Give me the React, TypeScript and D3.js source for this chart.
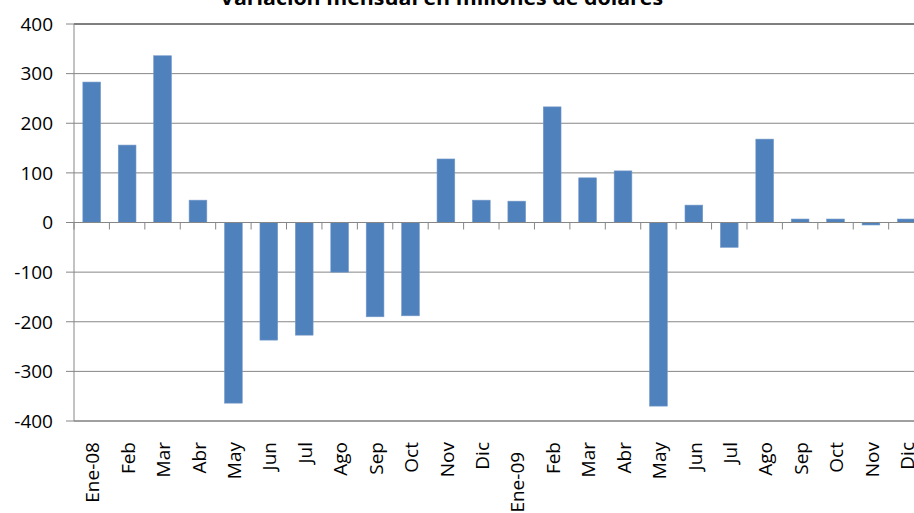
import React from "react";
import * as d3 from "d3";

const categories = ["Ene-08","Feb","Mar","Abr","May","Jun","Jul","Ago","Sep","Oct","Nov","Dic","Ene-09\u00a0\u00a0","Feb","Mar","Abr","May","Jun","Jul","Ago","Sep","Oct","Nov","Dic"];
const values = [283,156,336,45,-364,-237,-227,-100,-190,-188,128,45,43,233,90,104,-370,35,-50,168,7,7,-5,7];
const yTicks = [400,300,200,100,0,-100,-200,-300,-400];
const title = "Variación mensual en millones de dólares";

export default function App() {
  const W = 914, H = 513;
  const left = 74, top = 24, bottom = 421;
  const step = 35.42;
  const idx = categories.map((_, i) => String(i));
  const x = d3.scaleBand<string>().domain(idx).range([left, left + step * categories.length]).paddingInner(0.5).paddingOuter(0.25);
  const y = d3.scaleLinear().domain([-400, 400]).range([bottom, top]);
  const font = "'Open Sans', sans-serif";
  const right = W + 20;
  return (
    <svg width={W} height={H} style={{ position: "absolute", left: 0, top: 0, background: "#fff" }}>
      <text x={441.5} y={5} textAnchor="middle" fontFamily={font} fontWeight="bold" fontSize={19} fill="#000" textLength={443} lengthAdjust="spacingAndGlyphs">{title}</text>
      {yTicks.map((t) => (
        <g key={t}>
          <line x1={left} x2={right} y1={y(t)} y2={y(t)} stroke={t === 400 ? "#000" : t === -400 ? "#404040" : "#868686"} strokeWidth={1} />
          <line x1={left - 8} x2={left} y1={y(t)} y2={y(t)} stroke="#868686" />
          <text x={53} y={y(t)} dy="0.36em" textAnchor="end" fontFamily={font} fontSize={19} fill="#000">{t}</text>
        </g>
      ))}
      <line x1={left} x2={left} y1={top} y2={bottom} stroke="#868686" />
      {values.map((v, i) => (
        <rect key={i} x={x(String(i))} width={x.bandwidth()} y={y(Math.max(0, v))} height={Math.abs(y(v) - y(0))} fill="#4F81BD" stroke="#7399c8" strokeWidth={0.6} />
      ))}
      <line x1={left} x2={right} y1={y(0)} y2={y(0)} stroke="#868686" />
      {categories.map((c, i) => (
        <line key={"t" + i} x1={left + step * i} x2={left + step * i} y1={y(0)} y2={y(0) + 7} stroke="#868686" />
      ))}
      {categories.map((c, i) => {
        const cx = (x(String(i)) as number) + x.bandwidth() / 2;
        return (
          <text key={"l" + i} transform={`translate(${cx + 1},442) rotate(-90)`} dy="0.35em" textAnchor="end" fontFamily={font} fontSize={19} fill="#000" style={{ whiteSpace: "pre" }}>{c}</text>
        );
      })}
    </svg>
  );
}
